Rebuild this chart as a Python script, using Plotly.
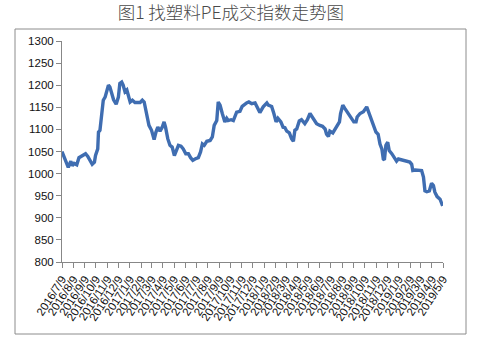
import pandas as pd
import plotly.graph_objects as go

start_date = "2016-07-09"
days_since_start = [0, 8, 17, 24, 28, 33, 40, 46, 53, 64, 70, 76, 82, 88, 91, 97, 99, 103, 108, 112,
                    117, 121, 126, 130, 135, 140, 147, 153, 157, 162, 166, 171, 176, 180, 185, 191, 198, 212, 218, 223,
                    230, 236, 243, 250, 255, 260, 266, 272, 277, 281, 287, 293, 299, 305, 309, 316, 323, 329, 336, 343,
                    349, 355, 361, 370, 376, 381, 386, 393, 402, 408, 413, 420, 424, 429, 435, 442, 447, 451, 459, 465,
                    474, 483, 489, 495, 501, 507, 515, 524, 533, 537, 546, 556, 560, 569, 575, 581, 586, 594, 600, 605,
                    610, 617, 623, 628, 632, 637, 644, 650, 659, 666, 673, 682, 691, 700, 707, 714, 718, 723, 727, 735,
                    741, 747, 753, 756, 762, 768, 777, 786, 792, 798, 801, 809, 818, 827, 831, 838, 845, 852, 858, 863,
                    868, 872, 875, 879, 884, 888, 895, 901, 908, 913, 917, 926, 935, 944, 949, 952, 958, 967, 976, 981,
                    985, 990, 997, 1003, 1008, 1012, 1018, 1026, 1033]
index_values = [1050, 1033, 1014, 1028, 1018, 1023, 1020, 1036, 1039, 1045, 1039, 1030, 1021, 1026, 1041, 1056, 1094, 1098, 1136, 1166,
                1173, 1189, 1200, 1196, 1181, 1167, 1157, 1173, 1204, 1207, 1200, 1185, 1189, 1175, 1162, 1166, 1161, 1161, 1166, 1162,
                1136, 1109, 1098, 1077, 1094, 1105, 1096, 1105, 1117, 1105, 1079, 1064, 1060, 1041, 1049, 1064, 1062, 1056, 1045, 1045,
                1036, 1030, 1033, 1036, 1049, 1067, 1064, 1073, 1075, 1083, 1109, 1120, 1162, 1155, 1136, 1117, 1125, 1120, 1122, 1120,
                1139, 1141, 1152, 1157, 1160, 1162, 1158, 1160, 1143, 1138, 1151, 1160, 1155, 1152, 1136, 1117, 1125, 1117, 1105, 1104,
                1096, 1092, 1079, 1073, 1098, 1101, 1119, 1122, 1113, 1122, 1136, 1125, 1113, 1109, 1107, 1101, 1089, 1084, 1096, 1092,
                1101, 1109, 1117, 1136, 1155, 1147, 1136, 1125, 1117, 1117, 1128, 1136, 1140, 1151, 1142, 1125, 1105, 1094, 1089, 1067,
                1056, 1033, 1031, 1064, 1071, 1052, 1045, 1038, 1028, 1033, 1032, 1030, 1028, 1026, 1021, 1007, 1008, 1008, 1007, 992,
                961, 959, 961, 978, 973, 958, 948, 942, 927]

tick_dates = ["2016-07-09", "2016-08-09", "2016-09-09", "2016-10-09", "2016-11-09", "2016-12-09",
              "2017-01-09", "2017-02-09", "2017-03-09", "2017-04-09", "2017-05-09", "2017-06-09",
              "2017-07-09", "2017-08-09", "2017-09-09", "2017-10-09", "2017-11-09", "2017-12-09",
              "2018-01-09", "2018-02-09", "2018-03-09", "2018-04-09", "2018-05-09", "2018-06-09",
              "2018-07-09", "2018-08-09", "2018-09-09", "2018-10-09", "2018-11-09", "2018-12-09",
              "2019-01-09", "2019-02-09", "2019-03-09", "2019-04-09", "2019-05-09"]
tick_labels = ["2016/7/9", "2016/8/9", "2016/9/9", "2016/10/9", "2016/11/9", "2016/12/9",
               "2017/1/9", "2017/2/9", "2017/3/9", "2017/4/9", "2017/5/9", "2017/6/9",
               "2017/7/9", "2017/8/9", "2017/9/9", "2017/10/9", "2017/11/9", "2017/12/9",
               "2018/1/9", "2018/2/9", "2018/3/9", "2018/4/9", "2018/5/9", "2018/6/9",
               "2018/7/9", "2018/8/9", "2018/9/9", "2018/10/9", "2018/11/9", "2018/12/9",
               "2019/1/9", "2019/2/9", "2019/3/9", "2019/4/9", "2019/5/9"]
y_ticks = [800, 850, 900, 950, 1000, 1050, 1100, 1150, 1200, 1250, 1300]

dates = pd.Timestamp(start_date) + pd.to_timedelta(days_since_start, unit="D")

fig = go.Figure()
fig.add_trace(go.Scatter(x=dates, y=index_values, mode="lines",
                         line=dict(color="#3F6DB1", width=3.4), hoverinfo="skip"))

axis_color = "#878787"
fig.update_layout(
    width=482, height=345,
    margin=dict(l=62, r=39, t=41, b=83),
    paper_bgcolor="white", plot_bgcolor="white",
    showlegend=False,
    font=dict(family="Liberation Sans, Arial, sans-serif", color="#111111"),
    title=dict(text="图1 找塑料PE成交指数走势图", x=0.479, xanchor="center",
               y=1 - 13 / 345, yanchor="middle",
               font=dict(family="Noto Sans CJK SC", size=17.5, color="#4a4a4a", weight=300)),
    xaxis=dict(type="date", range=[tick_dates[0], tick_dates[-1]],
               tickmode="array", tickvals=tick_dates, ticktext=tick_labels,
               tickangle=-57, tickfont=dict(size=11.5, color="#111111"),
               ticks="outside", ticklen=5, tickcolor=axis_color, tickwidth=1,
               showline=True, linecolor=axis_color, linewidth=1,
               showgrid=False, zeroline=False),
    yaxis=dict(range=[800, 1300], tickmode="array", tickvals=y_ticks,
               tickfont=dict(size=11.5, color="#111111"),
               ticks="outside", ticklen=5, tickcolor=axis_color, tickwidth=1,
               showline=True, linecolor=axis_color, linewidth=1,
               showgrid=False, zeroline=False),
    shapes=[dict(type="rect", xref="paper", yref="paper",
                 x0=(15 - 62) / 381, x1=(466 - 62) / 381,
                 y0=(262 - 334) / 221, y1=(262 - 29) / 221,
                 line=dict(color="#8c8c8c", width=1), layer="below")],
)

fig.write_html("out.html")
